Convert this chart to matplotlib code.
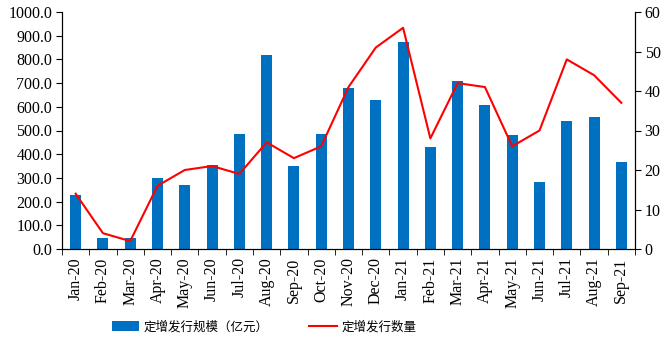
import numpy as np
import matplotlib
matplotlib.use("Agg")
from matplotlib import pyplot as plt

months = ["Jan-20", "Feb-20", "Mar-20", "Apr-20", "May-20", "Jun-20", "Jul-20",
          "Aug-20", "Sep-20", "Oct-20", "Nov-20", "Dec-20", "Jan-21", "Feb-21",
          "Mar-21", "Apr-21", "May-21", "Jun-21", "Jul-21", "Aug-21", "Sep-21"]
scale = [229, 48, 47, 300, 271, 356, 487, 820, 352, 487, 681, 630, 875, 432,
         710, 609, 482, 284, 541, 558, 368]
count = [14, 4, 2, 16, 20, 21, 19, 27, 23, 26, 41, 51, 56, 28, 42, 41, 26, 30,
         48, 44, 37]
bar_label = "定增发行规模（亿元）"
line_label = "定增发行数量"

plt.rcParams['font.family'] = ['Liberation Serif', 'Noto Sans CJK SC']
plt.rcParams['font.size'] = 11.5

fig = plt.figure(figsize=(6.69, 3.5), dpi=100)
ax = fig.add_axes([62 / 669, 1 - 249 / 350, (635 - 62) / 669, (249 - 12) / 350])
x = np.arange(len(months))

bars = ax.bar(x, scale, width=0.4, color="#0070C0", label=bar_label, zorder=2)
ax.set_xlim(-0.5, len(months) - 0.5)
ax.set_ylim(0, 1000)
ax.set_yticks(np.arange(0, 1001, 100))
ax.set_yticklabels(["%.1f" % v for v in np.arange(0, 1001, 100)])
ax.set_xticks(x)
ax.set_xticklabels(months, rotation=90)
ax.set_xticks(np.arange(-0.5, len(months)), minor=True)
ax.tick_params(axis="x", which="major", length=0, pad=6)
ax.tick_params(axis="x", which="minor", length=4, direction="out")
ax.tick_params(axis="y", length=4, direction="out", pad=3)
ax.spines["top"].set_visible(False)

ax2 = ax.twinx()
ln, = ax2.plot(x, count, color="#FF0000", lw=1.5, label=line_label, zorder=3)
ax2.set_ylim(0, 60)
ax2.set_yticks(np.arange(0, 61, 10))
ax2.tick_params(axis="y", length=4, direction="out", pad=3)
ax2.spines["top"].set_visible(False)

fig.legend([bars, ln], [bar_label, line_label], loc="center", ncol=2,
           bbox_to_anchor=(264 / 669, 1 - 327 / 350), frameon=False,
           prop={'family': ['Noto Sans CJK SC'], 'size': 9},
           handlelength=2.2, handleheight=0.8, handletextpad=0.4,
           columnspacing=3.2)

fig.savefig("out.png", dpi=100)
